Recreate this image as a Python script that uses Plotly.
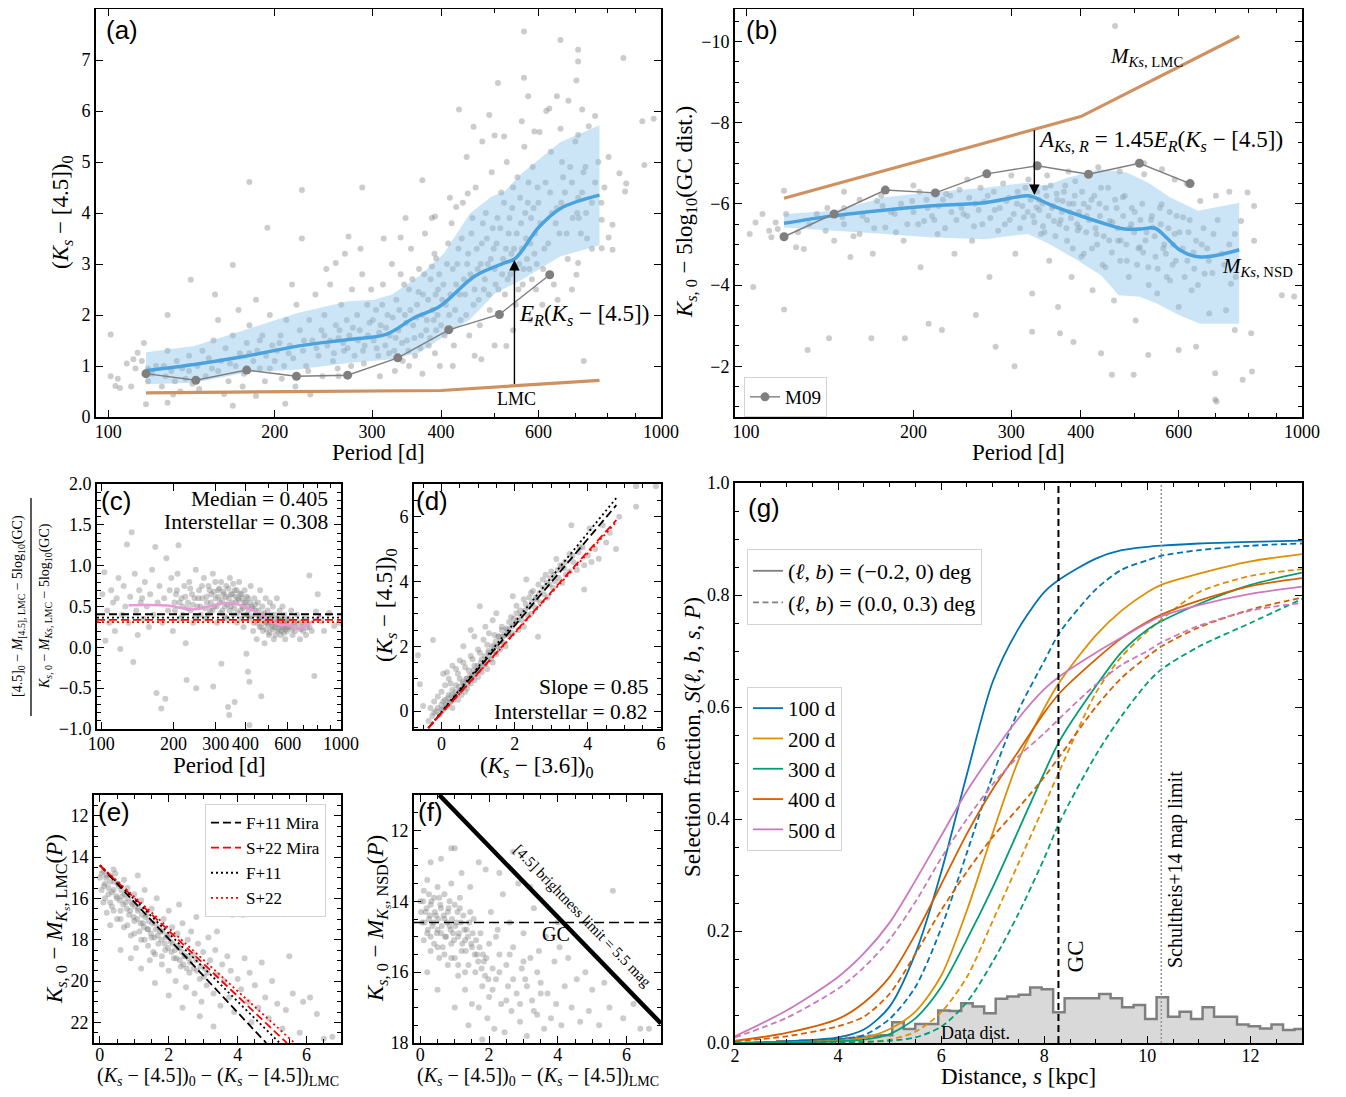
import math
import plotly.graph_objects as go

# page body keeps its default 8px margin, so the figure is 16px smaller than the window
OFF = 8
W, H = 1330, 1081
SERIF = "Liberation Serif"
SANS = "Liberation Sans"
GRAY_PT = "rgba(128,128,128,0.40)"
BLUE = "#4aa3de"
BAND = "rgba(130,192,236,0.42)"
LMC_C = "#cf9160"
M09_C = "#7f7f7f"

# ---------------- DATA ----------------
# Panel (a): period [d] vs (Ks-[4.5])0
a_points = [
    (565,7.56),(658,7.39),(708,7.2),(855,7.04),(565,6.65),(507,6.55),(708,6.97),(703,6.6),(575,6.29),(648,6.29),
    (628,6.05),(720,6.03),(431,6.03),(925,5.8),(970,5.85),(458,5.69),(489,5.92),(500,5.52),(603,5.59),(658,5.65),
    (708,5.53),(804,5.1),(841,4.78),(865,4.58),(861,4.42),(933,4.94),(781,3.87),(817,3.77),(781,3.31),(817,3.28),
    (804,3.52),(703,2.79),(708,3.02),(101,1.62),(101,0.8),(103,0.61),(105,0.57),(111,1.13),(113,1.26),(116,1.45),
    (128,2.0),(141,2.69),(156,2.4),(168,2.98),(180,4.61),(194,3.71),(224,4.45),(224,3.5),(288,4.5),(272,3.54),
    (258,3.02),(338,3.52),(370,4.64),(390,3.93),(426,4.12),(447,4.38),(392,3.11),(117,0.25),(128,0.28),(131,0.44),
    (168,0.22),(185,0.41),(209,0.26),(232,0.44),(261,0.8),(473,1.13),(725,1.1),(525,1.39),
    (112,0.95),(115,1.1),(118,0.7),(120,0.85),(122,1.0),(125,0.6),(127,0.8),(130,0.9),(133,1.1),(135,0.5),
    (138,0.75),(140,1.2),(104,0.75),(108,1.05),(110,0.6),(128,1.3),(136,0.95),(142,0.65),
    (145,1.0),(148,1.3),(150,0.8),(152,1.15),(155,1.5),(158,0.9),(160,1.1),(163,1.35),(165,0.7),(168,1.6),
    (170,1.0),(173,1.25),(176,0.85),(178,1.45),(180,1.8),(183,1.1),(186,1.3),(188,0.95),(190,1.6),(193,1.2),
    (196,2.0),(198,1.4),(146,0.55),(158,1.9),(172,2.1),(185,2.3),(162,0.45),(175,0.6),(192,0.7),
    (202,1.3),(205,1.6),(208,1.0),(210,1.9),(213,1.4),(216,1.15),(219,2.2),(222,1.7),(225,1.3),(228,1.0),
    (231,1.9),(234,1.5),(237,2.4),(240,1.2),(243,1.7),(246,2.0),(249,1.4),(252,2.6),(255,1.1),(258,1.8),
    (261,1.55),(264,2.2),(267,1.3),(270,1.9),(273,1.6),(276,2.5),(279,1.2),(282,2.0),(285,1.7),(288,2.8),
    (291,1.4),(294,2.2),(297,1.85),(206,0.75),(218,0.6),(230,0.9),(244,0.8),(260,0.95),(275,1.0),(290,1.05),
    (215,2.6),(248,2.9),(268,3.2),(286,3.3),(299,2.5),
    (302,1.5),(305,2.1),(308,1.2),(311,1.8),(314,2.6),(317,1.4),(320,2.0),(323,1.6),(326,3.0),(329,1.3),
    (332,2.3),(335,1.7),(338,2.8),(341,1.1),(344,2.0),(347,1.5),(350,2.5),(353,3.3),(356,1.8),(359,1.2),
    (362,2.2),(365,2.9),(368,1.6),(371,2.4),(374,3.6),(377,1.9),(380,1.4),(383,2.7),(386,2.1),(389,3.2),
    (392,1.7),(395,2.5),(398,1.0),(310,0.8),(330,0.9),(350,1.0),(370,0.85),(390,1.25),(345,3.9),(385,3.9),(315,3.5),
    (402,2.3),(406,1.6),(410,3.0),(414,2.0),(418,3.8),(422,1.4),(426,2.6),(430,3.3),(434,1.9),(438,4.2),
    (442,2.4),(446,3.0),(450,1.6),(454,3.6),(458,2.2),(462,4.5),(466,2.9),(470,1.8),(474,3.4),(478,2.5),
    (482,4.0),(486,3.0),(490,2.1),(494,4.8),(498,3.3),(502,2.6),(506,3.9),(510,2.0),(514,4.4),(518,3.1),
    (522,2.4),(526,5.0),(530,3.6),(534,2.8),(538,4.1),(542,3.3),(546,2.2),(550,4.7),(554,3.0),(558,3.8),
    (562,2.6),(566,5.3),(570,3.5),(574,4.2),(578,2.9),(582,3.9),(586,4.9),(590,3.2),(594,2.5),(598,4.5),
    (420,1.0),(460,1.2),(500,1.4),(540,1.7),(580,1.9),(415,4.3),(445,5.1),(475,5.4),(520,5.5),(560,5.8),(590,5.6),
    (605,3.8),(612,2.9),(618,4.6),(625,3.4),(632,5.2),(640,2.6),(648,4.1),(655,3.6),(662,5.0),(670,4.4),
    (678,3.1),(685,4.9),(692,3.9),(700,5.4),(708,4.3),(716,3.6),(724,4.8),(732,4.0),(740,5.7),(750,3.3),
    (760,4.6),(770,5.0),(780,4.2),(790,4.5),(610,2.2),(650,2.3),(690,2.5),(620,6.0),(680,6.2),(730,4.9),
    (760,5.9),(635,4.0),(665,4.7),(710,3.9),
    (252,1.5),(256,1.25),(262,1.7),(266,1.45),(271,1.35),(277,1.75),(283,1.5),(289,1.3),(295,1.6),(301,1.9),
    (306,1.35),(309,1.65),(313,2.2),(318,1.75),(322,1.25),(327,1.95),(331,1.55),(336,2.1),(340,1.45),(343,2.6),
    (346,1.85),(349,1.3),(352,2.1),(355,2.7),(358,1.55),(361,1.95),(364,2.45),(367,1.35),(370,2.0),(373,2.8),
    (376,1.7),(379,2.3),(382,1.55),(385,2.95),(388,1.9),(391,2.4),(394,2.0),(397,2.8),(400,1.8),(404,2.6),
    (408,2.2),(412,3.4),(416,2.4),(420,2.9),(424,2.1),(428,3.0),(432,2.4),(436,3.5),(440,2.7),(444,2.0),
    (448,3.2),(452,2.8),(456,3.9),(460,2.5),(464,3.3),(468,2.3),(472,3.0),(476,3.8),(480,2.7),(484,3.5),
    (488,2.4),(492,3.1),(496,3.7),(500,2.9),(504,3.4),(508,2.5),(512,3.7),(516,2.8),(520,4.2),(524,3.3),
    (528,2.7),(532,3.9),(536,3.2),(540,4.5),(544,2.9),(548,3.6),(552,2.5),(556,4.3),(560,3.3),(564,2.9),
    (568,4.0),(572,3.1),(576,4.6),(580,3.4),(584,2.7),(588,4.1),(592,3.6),(596,3.0),(600,4.2),(615,3.3),
    (630,4.4),(645,3.8),(660,4.2),(675,3.6),(690,4.6),(705,4.0),(720,4.4),(735,3.5),(750,4.2),(200,1.1),
    (212,1.25),(226,1.5),(238,1.35),(246,1.6),(180,1.25),(166,1.05),(154,0.95),(140,0.9),(126,1.0),(118,0.95),
    (132,0.7),(188,1.5),(196,0.95),(204,1.45),
]
a_med_P = [117, 143, 177, 220, 272, 318, 357, 398, 460, 521, 545, 602, 658, 774]
a_med_c = [0.91, 1.03, 1.19, 1.39, 1.52, 1.62, 1.94, 2.17, 2.76, 3.02, 3.11, 3.73, 4.09, 4.35]
a_up_P = [117, 143, 177, 220, 272, 303, 326, 365, 405, 451, 493, 521, 560, 658, 774]
a_up_c = [1.27, 1.39, 1.71, 2.04, 2.27, 2.30, 2.40, 2.76, 3.21, 3.99, 4.32, 4.42, 4.78, 5.39, 5.72]
a_lo_P = [117, 143, 177, 220, 272, 326, 365, 405, 451, 502, 560, 658, 774]
a_lo_c = [0.64, 0.67, 0.87, 0.93, 1.06, 1.13, 1.26, 1.58, 1.91, 2.43, 2.69, 3.15, 3.37]
m09_P = [117, 144, 178, 219, 271, 334, 413, 510, 629]
m09_color = [0.85, 0.72, 0.92, 0.80, 0.82, 1.16, 1.71, 2.01, 2.79]
m09_mag = [-5.19, -5.75, -6.34, -6.27, -6.74, -6.94, -6.73, -7.00, -6.50]
lmc_P = [117, 400, 774]
lmc_color = [0.475, 0.52, 0.72]
lmc_mag_P = [117, 400, 771]
lmc_mag = [-6.14, -8.15, -10.13]
a_arrow_P, a_arrow_y0, a_arrow_y1 = 543, 0.62, 3.08

# Panel (b): period vs Ks,0 - 5log10(GC dist)
b_points = [
    (461,-10.38),(117,-3.40),(103,-3.95),(141,-2.69),(129,-2.4),(168,-2.69),(193,-2.69),(213,-3.05),(225,-2.89),
    (259,-3.26),(281,-2.48),(304,-2.0),(327,-2.85),(367,-2.81),(388,-2.6),(435,-2.32),(455,-1.79),(498,-1.79),
    (529,-2.28),(600,-2.4),(645,-2.48),(698,-1.83),(702,-1.13),(730,-3.38),(757,-2.89),(782,-1.67),(813,-1.87),
    (810,-2.81),(920,-3.75),(968,-3.72),(777,-5.58),(798,-6.28),(820,-5.95),(820,-5.09),(698,-1.18),
    (101.5,-5.26),(104,-5.54),(107,-5.75),(110,-5.34),(111,-5.18),(113,-5.54),(114,-5.38),(117,-6.32),(118,-5.75),
    (123,-4.93),(127,-4.89),(134,-5.75),(139,-5.34),(144,-5.09),(149,-5.67),(154,-4.69),(160,-5.26),(169,-4.77),
    (172,-6.07),(178,-5.42),(185,-5.75),(192,-5.09),(199,-6.07),(206,-4.44),(209,-5.58),(221,-5.26),(229,-6.24),
    (237,-4.77),(246,-5.75),(255,-5.09),(264,-6.4),(274,-4.2),(284,-5.34),(294,-6.07),(305,-4.77),(316,-5.67),
    (327,-3.79),(333,-5.91),(339,-5.26),(345,-6.4),(351,-4.6),(358,-5.58),(364,-3.46),(371,-6.07),(378,-5.09),
    (385,-4.2),(391,-6.56),(398,-5.42),(405,-4.77),(413,-5.91),(420,-3.87),(427,-5.26),(435,-6.4),(443,-4.44),
    (451,-5.58),(459,-3.62),(467,-5.09),(476,-6.16),(484,-4.6),(493,-5.5),(502,-3.13),(511,-4.93),(520,-6.73),
    (529,-4.44),(539,-5.42),(549,-3.79),(559,-5.99),(569,-4.77),(579,-4.11),(590,-5.26),(600,-3.46),(611,-5.67),
    (622,-4.6),(633,-3.87),(645,-5.09),(656,-6.07),(668,-4.28),(681,-3.3),(693,-5.26),(718,-4.77),(745,-4.03),(757,-5.26),
    (150,-5.9),(160,-6.1),(165,-5.6),(175,-6.2),(182,-5.8),(190,-6.0),(195,-5.5),(205,-6.3),(212,-5.9),(218,-5.6),
    (226,-6.1),(234,-5.8),(242,-6.35),(250,-5.7),(258,-6.0),(266,-5.5),(272,-6.2),(280,-5.85),(290,-6.5),(298,-5.6),
    (308,-6.3),(314,-5.95),(322,-6.6),(328,-5.7),(336,-6.1),(342,-5.45),(348,-6.7),(355,-5.9),(362,-6.25),(368,-5.6),
    (375,-6.45),(382,-5.8),(388,-6.0),(395,-5.35),(402,-6.3),(410,-5.7),(418,-6.1),(425,-5.4),(432,-6.0),(440,-5.2),
    (448,-6.4),(456,-5.55),(464,-5.9),(472,-5.1),(480,-6.2),(490,-5.4),(500,-5.8),(508,-4.9),(516,-6.0),(525,-5.3),
    (535,-5.6),(545,-4.7),(555,-5.9),(565,-5.0),(575,-5.4),(585,-4.5),(595,-5.7),(610,-4.9),(625,-5.3),(640,-4.4),
    (660,-5.0),(680,-4.6),(430,-6.9),(470,-6.8),(520,-7.0),(560,-6.85),(590,-6.6),(380,-6.8),(300,-6.7),(250,-6.6),
    (200,-6.45),(150,-6.3),(620,-6.5),(700,-6.2),(740,-6.3),
    (200,-5.8),(204,-5.5),(211,-6.1),(216,-5.7),(222,-5.95),(228,-5.4),(233,-6.2),(239,-5.6),(244,-5.9),(252,-6.15),
    (257,-5.45),(262,-5.85),(268,-6.05),(275,-5.65),(279,-6.3),(286,-5.9),(292,-5.5),(297,-6.15),(303,-5.75),(307,-6.0),
    (311,-5.4),(318,-6.4),(321,-5.8),(325,-6.1),(330,-5.55),(334,-6.3),(337,-5.85),(341,-6.0),(344,-5.3),(347,-6.2),
    (350,-5.7),(353,-6.45),(357,-5.95),(360,-5.2),(363,-6.1),(366,-5.5),(370,-5.8),(373,-6.3),(377,-5.4),(381,-6.0),
    (384,-5.65),(387,-4.9),(390,-6.2),(394,-5.5),(397,-5.8),(401,-4.7),(405,-6.0),(409,-5.3),(414,-5.6),(419,-4.9),
    (423,-6.2),(428,-5.0),(433,-5.7),(438,-4.5),(444,-5.9),(450,-5.1),(455,-4.8),(461,-6.1),(466,-5.4),(471,-4.6),
    (477,-5.7),(483,-5.0),(488,-4.2),(494,-5.9),(499,-5.3),(505,-4.5),(512,-5.6),(518,-4.8),(523,-5.1),(530,-4.0),
    (537,-5.7),(543,-5.2),(550,-4.4),(557,-5.5),(563,-4.9),(571,-4.2),(578,-5.8),(586,-5.0),(593,-4.6),(602,-5.3),
    (615,-4.2),(628,-5.6),(638,-4.8),(650,-4.0),(665,-5.4),(675,-4.9),(690,-4.3),(705,-5.6),(725,-4.5),(740,-5.0),
    (760,-4.2),(150,-5.5),(156,-5.2),(162,-5.7),(170,-5.4),(176,-5.95),(186,-5.3),(130,-5.5),(124,-5.3),(140,-5.9),
]
b_med_P = [117, 144, 178, 213, 269, 321, 330, 351, 391, 435, 480, 511, 544, 569, 605, 656, 771]
b_med_m = [-5.52, -5.71, -5.85, -5.95, -6.03, -6.20, -6.16, -5.99, -5.75, -5.54, -5.38, -5.38, -5.40, -5.18, -4.85, -4.69, -4.87]
b_up_P = [117, 144, 178, 213, 269, 321, 345, 377, 435, 484, 529, 579, 650, 771]
b_up_m = [-5.75, -5.83, -6.16, -6.28, -6.40, -6.52, -6.44, -6.64, -6.85, -6.77, -6.52, -6.16, -5.83, -6.03]
b_lo_P = [117, 144, 178, 213, 269, 321, 351, 391, 435, 468, 511, 549, 600, 656, 771]
b_lo_m = [-5.42, -5.34, -5.26, -5.18, -5.13, -5.26, -5.01, -4.64, -4.24, -3.75, -3.71, -3.54, -3.26, -3.05, -3.05]
b_arrow_P, b_arrow_y0, b_arrow_y1 = 330, -7.85, -6.22

# Panel (c): ratio vs period
c_points = [
    (101,0.65),(103,0.92),(104,0.08),(106,0.45),(108,0.3),(110,0.7),(112,0.55),(114,0.2),(116,0.6),(118,0.85),
    (120,-0.02),(122,0.4),(124,0.75),(126,0.5),(128,1.26),(130,0.3),(132,0.62),(134,1.41),(136,-0.18),(138,0.9),
    (140,0.45),(142,0.15),(144,0.7),(146,0.55),(148,0.6),(150,0.35),(152,0.8),(155,0.5),(158,0.25),(160,0.65),
    (163,0.95),(165,0.4),(168,1.23),(170,-0.56),(172,0.55),(175,0.75),(178,-0.75),(180,0.3),(183,0.6),(185,-0.63),
    (187,1.09),(190,0.45),(193,0.7),(196,0.85),(199,0.2),(202,0.55),(205,0.65),(208,0.9),(210,1.25),(213,0.35),
    (216,0.6),(219,0.5),(222,0.75),(225,0.05),(227,-0.4),(230,0.55),(233,0.8),(236,0.45),(239,0.65),(242,0.3),
    (245,0.6),(249,-0.5),(248,0.95),(252,0.5),(256,0.7),(260,0.4),(264,0.6),(268,0.85),(272,0.35),(276,0.55),
    (280,0.75),(284,0.45),(288,0.65),(293,-0.48),(292,0.9),(296,0.5),(300,0.6),(304,0.3),(308,0.7),(312,0.55),
    (317,-0.2),(316,0.8),(320,0.45),(324,0.65),(328,0.5),(332,0.75),(336,0.35),(338,-0.73),(340,0.6),(342,-0.83),
    (344,0.85),(348,0.5),(352,0.65),(356,0.4),(360,-0.67),(360,0.7),(364,0.55),(368,0.3),(372,0.6),(376,0.8),
    (380,0.45),(384,0.65),(388,0.5),(392,0.25),(396,0.7),(400,0.55),(403,-0.08),(405,0.4),(409,-0.3),(410,0.6),
    (415,-0.42),(415,0.35),(420,0.75),(425,0.5),(430,0.2),(435,0.6),(440,0.45),(445,0.1),(450,0.55),(455,0.35),
    (460,0.7),(465,-0.6),(465,0.25),(470,0.5),(475,0.4),(480,0.05),(485,0.6),(490,0.3),(495,0.45),(500,0.15),
    (505,0.55),(510,0.35),(515,0.25),(520,0.5),(525,0.1),(530,0.4),(535,0.3),(540,0.6),(545,0.2),(550,0.35),
    (555,0.45),(560,0.15),(565,0.3),(570,0.5),(575,0.25),(580,0.4),(585,0.1),(590,0.3),(595,0.2),(605,0.35),
    (612,0.25),(620,0.45),(628,0.15),(636,0.3),(645,0.2),(655,0.4),(665,0.25),(675,0.1),(685,0.3),(695,0.2),
    (705,0.35),(715,0.15),(725,0.3),(740,0.25),(755,0.2),(774,-0.35),(787,0.44),(800,0.65),(826,0.32),(850,0.2),
    (892,0.42),(937,0.26),(980,0.3),(738,0.88),(415,-0.95),
    (203,0.45),(207,0.7),(212,0.55),(218,0.4),(224,0.62),(229,0.48),(235,0.72),(241,0.52),(247,0.38),(254,0.6),
    (259,0.5),(263,0.75),(270,0.48),(275,0.62),(279,0.4),(283,0.7),(287,0.55),(291,0.45),(295,0.68),(299,0.8),
    (303,0.5),(307,0.62),(311,0.72),(315,0.42),(319,0.58),(323,0.68),(327,0.38),(331,0.62),(335,0.52),(339,0.72),
    (343,0.45),(347,0.65),(351,0.55),(355,0.78),(359,0.48),(363,0.62),(367,0.7),(371,0.42),(375,0.58),(379,0.66),
    (383,0.35),(387,0.6),(391,0.48),(395,0.55),(399,0.4),(404,0.62),(408,0.5),(413,0.45),(418,0.55),(423,0.38),
    (428,0.48),(433,0.3),(438,0.52),(443,0.4),(448,0.3),(453,0.45),(458,0.25),(463,0.38),(468,0.32),(473,0.2),
    (478,0.42),(483,0.3),(488,0.22),(493,0.35),(498,0.28),(503,0.18),(508,0.3),(513,0.4),(518,0.22),(523,0.32),
    (528,0.25),(533,0.15),(538,0.28),(543,0.35),(548,0.22),(553,0.28),(558,0.32),(563,0.2),(568,0.25),(573,0.35),
    (578,0.18),(583,0.28),(588,0.22),(593,0.32),(598,0.25),(610,0.3),(625,0.22),(640,0.28),(660,0.32),(680,0.22),
    (700,0.28),(720,0.24),
]
c_med_P = [130, 190, 238, 349, 436, 496, 563, 610, 661, 826]
c_med_r = [0.516, 0.512, 0.464, 0.544, 0.444, 0.343, 0.270, 0.278, 0.230, 0.395]
c_levels = [0.405, 0.363, 0.335, 0.308]   # F+11 Mira, F+11, S+22 Mira, S+22

# Panel (d): colour-colour
d_points = [
    (-0.35,-0.3),(-0.3,0.1),(-0.25,-0.15),(-0.2,0.3),(-0.15,0.0),(-0.1,0.45),(-0.05,-0.1),(0.0,0.2),(0.0,0.6),(0.05,0.05),
    (0.1,0.35),(0.1,0.8),(0.15,0.15),(0.2,0.5),(0.2,1.0),(0.25,0.3),(0.3,0.65),(0.3,0.1),(0.35,0.45),(0.4,0.8),
    (0.4,1.3),(0.45,0.35),(0.5,0.6),(0.5,1.0),(0.55,0.5),(0.6,0.85),(0.6,1.5),(0.65,0.6),(0.7,1.0),(0.7,0.7),
    (0.75,1.25),(0.8,0.85),(0.8,1.7),(0.85,1.1),(0.9,0.95),(0.9,1.4),(0.95,1.2),(1.0,1.05),(1.0,1.9),(1.05,1.35),
    (1.1,1.2),(1.1,1.6),(1.15,2.2),(1.2,1.45),(1.25,1.3),(1.3,1.8),(1.3,2.4),(1.35,1.6),(1.4,1.5),(1.45,2.0),
    (1.5,1.75),(1.5,3.02),(1.55,2.3),(1.6,1.9),(1.65,2.6),(1.68,2.29),(1.7,2.1),(1.75,2.0),(1.8,2.5),(1.85,2.3),
    (1.9,2.9),(1.95,3.54),(1.95,2.4),(2.0,2.7),(2.05,3.02),(2.1,2.5),(2.15,3.1),(2.2,2.8),(2.25,2.6),(2.3,3.3),
    (2.32,4.06),(2.35,2.95),(2.4,3.5),(2.45,3.0),(2.5,3.7),(2.55,3.2),(2.6,3.45),(2.64,2.29),(2.65,3.9),(2.7,3.35),
    (2.77,4.06),(2.8,3.6),(2.85,4.2),(2.9,3.5),(2.95,3.9),(3.0,4.3),(3.05,3.8),(3.1,4.0),(3.14,4.69),(3.2,4.1),
    (3.25,4.5),(3.3,3.95),(3.35,4.4),(3.4,4.2),(3.5,4.84),(3.5,4.3),(3.55,5.73),(3.6,4.6),(3.7,4.35),(3.75,4.9),
    (3.86,5.05),(3.9,3.75),(3.9,4.5),(4.0,4.8),(4.05,5.63),(4.1,4.6),(4.2,5.0),(4.3,4.7),(4.41,5.73),(4.5,5.2),
    (4.6,5.5),(4.77,5.0),(4.86,5.99),(5.32,6.3),(5.32,6.93),(5.86,6.93),(-0.59,0.83),(-0.64,1.72),(-0.5,0.16),(-0.23,2.19),
    (0.5,1.56),(0.05,1.15),(1.05,3.23),(0.3,1.4),(0.6,2.0),(0.9,2.3),(1.2,2.6),(0.15,1.2),(0.8,2.5),(1.4,2.8),
    (-0.2,-0.05),(-0.1,0.1),(0.0,0.05),(0.05,0.3),(0.12,0.2),(0.18,0.4),(0.22,0.25),(0.28,0.5),(0.33,0.35),(0.38,0.6),
    (0.42,0.5),(0.48,0.75),(0.52,0.65),(0.58,0.9),(0.62,0.75),(0.68,1.0),(0.72,0.85),(0.78,1.1),(0.82,1.0),(0.88,1.25),
    (0.92,1.15),(0.98,1.4),(1.02,1.25),(1.08,1.5),(1.12,1.4),(1.18,1.7),(1.22,1.55),(1.28,1.85),(1.32,1.7),(1.38,2.0),
    (1.42,1.85),(1.48,2.15),(1.52,2.0),(1.58,2.3),(1.62,2.15),(1.72,2.35),(1.78,2.55),(1.82,2.4),(1.92,2.6),(1.98,2.85),
    (2.08,2.8),(2.18,2.95),(2.28,3.1),(2.38,3.2),(2.48,3.35),(2.58,3.5),(2.68,3.65),(2.78,3.8),(2.88,3.95),(2.98,4.1),
    (3.08,4.2),(3.18,4.35),(3.28,4.45),(3.38,4.6),(3.58,4.8),(3.78,5.05),(0.25,0.85),(0.45,1.15),(0.65,1.35),(0.85,1.6),
    (1.05,1.8),(1.25,2.05),(1.45,2.35),(1.65,2.5),(1.85,2.75),(2.05,3.25),(2.25,3.45),(2.45,3.65),
]
d_x0, d_y0, d_x1 = -0.36, -0.52, 4.78
d_y1 = [6.35, 6.57, 5.89, 5.83]        # F+11 Mira, F+11, S+22 Mira, S+22

# Panel (e)
e_points = [
    (0.0,15.0),(0.05,15.6),(0.1,14.7),(0.1,16.2),(0.15,15.3),(0.2,14.9),(0.2,16.7),(0.25,15.8),(0.3,15.2),(0.35,16.4),
    (0.4,15.6),(0.45,14.8),(0.5,16.0),(0.5,17.0),(0.55,15.4),(0.6,16.6),(0.65,15.9),(0.7,17.4),(0.75,16.2),(0.8,15.5),
    (0.85,16.8),(0.9,17.8),(0.95,16.3),(1.0,15.8),(1.0,17.1),(1.05,18.4),(1.1,16.6),(1.15,17.6),(1.2,16.1),(1.25,17.2),
    (1.3,18.0),(1.35,16.8),(1.4,17.5),(1.45,19.0),(1.5,16.5),(1.5,17.9),(1.55,18.6),(1.6,17.2),(1.65,16.0),(1.7,18.2),
    (1.75,17.6),(1.8,19.2),(1.85,17.0),(1.9,18.5),(1.95,17.8),(2.0,16.6),(2.0,19.5),(2.05,18.1),(2.1,17.4),(2.15,18.9),
    (2.2,20.0),(2.25,17.7),(2.3,18.4),(2.35,19.3),(2.4,17.2),(2.45,18.8),(2.5,20.3),(2.55,18.0),(2.6,19.6),(2.65,17.6),
    (2.7,18.7),(2.75,20.6),(2.8,19.0),(2.85,18.2),(2.9,19.9),(2.95,21.0),(3.0,18.6),(3.05,19.4),(3.1,20.2),(3.15,17.9),
    (3.2,19.0),(3.3,20.6),(3.35,18.5),(3.4,19.7),(3.5,21.2),(3.55,19.2),(3.6,20.0),(3.7,18.8),(3.75,20.8),(3.8,19.5),
    (3.9,21.5),(3.85,16.8),(4.15,16.8),(4.0,19.9),(4.1,20.4),(4.2,18.9),(4.3,21.0),(4.35,19.6),(4.4,22.0),(4.5,20.2),
    (4.6,21.3),(4.7,19.1),(4.8,20.8),(4.9,21.8),(5.0,20.0),(5.15,21.1),(5.3,22.3),(5.4,21.4),(5.5,18.8),(5.6,20.6),
    (5.8,22.5),(5.9,21.0),(6.1,20.8),(6.3,21.6),(6.5,22.8),(6.75,22.7),(0.3,17.3),(0.6,18.5),(0.9,18.9),(1.2,19.4),
    (1.6,20.1),(2.0,20.7),(2.4,21.3),(2.9,21.7),(3.3,22.2),(0.7,15.1),(1.3,15.6),(1.1,14.9),(0.4,14.6),(2.3,16.3),
    (2.8,16.9),(3.4,17.6),
    (0.05,14.8),(0.12,15.4),(0.18,15.0),(0.25,15.5),(0.3,14.9),(0.35,15.7),(0.42,15.2),(0.48,15.9),(0.52,15.3),(0.58,16.1),
    (0.62,15.6),(0.68,16.3),(0.72,15.8),(0.78,16.5),(0.82,16.0),(0.88,16.6),(0.92,16.2),(0.98,16.9),(1.02,16.4),(1.08,17.0),
    (1.12,16.5),(1.18,17.2),(1.22,16.8),(1.28,17.4),(1.32,16.9),(1.38,17.5),(1.42,17.1),(1.48,17.7),(1.52,17.2),(1.58,17.9),
    (1.62,17.5),(1.68,17.8),(1.72,17.4),(1.78,18.0),(1.82,17.6),(1.88,18.2),(1.92,17.9),(1.98,18.4),(2.02,17.8),(2.08,18.6),
    (2.12,18.2),(2.18,18.5),(2.22,18.9),(2.28,18.3),(2.32,19.0),(2.38,18.6),(2.42,19.2),(2.48,18.8),(2.52,19.4),(2.58,18.9),
    (2.62,19.1),(2.72,19.4),(2.82,19.5),(2.92,19.3),(3.02,19.8),(3.12,19.6),(0.4,16.6),(0.6,17.0),(0.8,17.3),(1.0,17.7),
    (1.2,18.0),(1.4,18.3),(1.6,18.7),(1.8,18.8),(0.15,16.0),(0.3,16.2),
]
e_x0, e_y0, e_y1 = 0.0, 14.4, 23.0
e_x1 = [4.83, 5.22, 5.43, 5.65]        # F+11 Mira, F+11, S+22 Mira, S+22

# Panel (f)
f_points = [
    (0.0,14.0),(0.05,14.6),(0.1,13.7),(0.1,15.1),(0.15,14.3),(0.2,14.9),(0.2,13.4),(0.25,14.5),(0.3,15.4),(0.3,14.1),
    (0.35,14.7),(0.4,13.9),(0.4,15.2),(0.45,14.4),(0.5,14.8),(0.5,13.6),(0.55,15.6),(0.6,14.2),(0.6,14.9),(0.65,15.3),
    (0.7,14.5),(0.7,13.8),(0.75,15.0),(0.8,14.3),(0.8,15.8),(0.85,14.7),(0.9,15.2),(0.9,13.5),(0.95,14.9),(1.0,14.1),
    (1.0,15.6),(1.05,14.6),(1.1,16.1),(1.1,15.0),(1.15,13.9),(1.2,15.4),(1.25,14.4),(1.3,16.5),(1.3,15.1),(1.35,14.8),
    (1.4,15.8),(1.45,13.6),(1.5,15.3),(1.5,16.9),(1.55,14.5),(1.6,16.0),(1.65,15.5),(1.7,17.0),(1.75,14.9),(1.8,16.4),
    (1.85,15.7),(1.9,13.1),(1.95,17.3),(2.0,15.2),(2.0,16.7),(2.05,14.3),(2.1,15.9),(2.15,17.6),(2.2,16.2),(2.25,14.8),
    (2.3,15.5),(2.35,16.9),(2.4,13.8),(2.45,17.7),(2.5,15.8),(2.55,16.4),(2.6,14.6),(2.65,17.1),(2.7,15.3),(2.8,16.6),
    (2.85,13.5),(2.9,17.4),(2.95,15.9),(3.0,14.9),(3.05,16.2),(3.1,17.8),(3.2,15.6),(3.25,16.8),(3.3,14.2),(3.4,17.2),
    (3.45,15.4),(3.5,16.3),(3.6,17.6),(3.65,15.0),(3.7,16.6),(3.8,17.3),(3.9,15.7),(3.95,16.9),(4.05,15.3),(4.1,17.5),
    (4.2,16.4),(4.3,15.6),(4.4,17.0),(4.55,16.2),(4.65,17.4),(4.8,16.0),(4.9,17.1),(5.0,16.5),(5.2,17.5),(5.35,16.3),
    (5.5,17.0),(5.6,13.7),(5.9,17.3),(6.2,16.9),(6.4,17.6),(6.65,17.6),(0.9,12.5),(1.0,12.5),(2.7,12.6),(1.7,12.9),
    (2.3,13.2),(3.2,13.6),(0.3,12.9),(1.2,13.2),(4.0,14.6),(0.2,16.0),(0.5,16.5),(1.0,17.0),(1.4,17.5),(1.8,17.9),(0.6,12.8),
    (0.02,14.3),(0.08,14.0),(0.12,14.6),(0.18,14.2),(0.22,14.8),(0.28,14.4),(0.32,14.0),(0.38,14.6),(0.42,14.3),(0.48,14.9),
    (0.52,14.5),(0.58,14.1),(0.62,14.7),(0.68,14.4),(0.72,15.0),(0.78,14.6),(0.82,14.2),(0.88,14.8),(0.92,14.5),(0.98,15.1),
    (1.02,14.7),(1.08,14.3),(1.12,14.9),(1.18,14.6),(1.22,15.2),(1.28,14.8),(1.32,15.4),(1.38,15.0),(1.42,14.6),(1.48,15.2),
    (1.52,14.9),(1.58,15.5),(1.62,15.1),(1.68,15.7),(1.72,15.3),(1.78,15.9),(1.82,15.5),(1.88,16.1),(1.92,15.6),(1.98,16.2),
    (0.3,15.0),(0.5,15.3),(0.7,15.5),(0.9,15.6),(1.1,15.8),(1.3,16.0),(0.25,13.8),(0.55,13.9),(0.85,14.0),(1.15,14.2),
    (1.45,14.3),(2.1,16.5),(2.3,16.0),(2.5,16.8),(2.7,16.2),(2.9,16.9),(3.1,16.4),(3.3,17.1),(3.5,16.6),(2.2,15.0),
    (2.6,15.5),(3.0,15.7),(3.4,16.0),
]
f_limit_x = [0.55, 7.0]
f_limit_y = [11.0, 17.45]
f_gc_level = 14.6

# Panel (g): selection fraction
g_s = [2, 3, 4, 4.5, 5, 5.5, 6, 6.5, 7, 7.5, 8, 8.3, 9, 9.5, 10, 10.27, 11, 12, 13]
g_periods = ["100 d", "200 d", "300 d", "400 d", "500 d"]
g_solid = [
    [0.000, 0.003, 0.010, 0.024, 0.065, 0.160, 0.305, 0.480, 0.645, 0.740, 0.805, 0.828, 0.865, 0.880, 0.886, 0.888, 0.892, 0.895, 0.897],
    [0.000, 0.001, 0.004, 0.009, 0.025, 0.056, 0.120, 0.237, 0.375, 0.505, 0.598, 0.645, 0.728, 0.772, 0.805, 0.818, 0.838, 0.860, 0.873],
    [0.000, 0.001, 0.003, 0.006, 0.016, 0.044, 0.100, 0.185, 0.278, 0.380, 0.483, 0.540, 0.637, 0.698, 0.738, 0.753, 0.784, 0.818, 0.840],
    [0.004, 0.018, 0.043, 0.072, 0.118, 0.194, 0.283, 0.374, 0.453, 0.521, 0.590, 0.625, 0.685, 0.723, 0.752, 0.765, 0.790, 0.816, 0.830],
    [0.012, 0.058, 0.118, 0.160, 0.215, 0.290, 0.370, 0.450, 0.518, 0.580, 0.632, 0.655, 0.697, 0.724, 0.750, 0.762, 0.782, 0.802, 0.815],
]
g_dashed = [
    [0.000, 0.002, 0.006, 0.014, 0.043, 0.100, 0.205, 0.340, 0.478, 0.594, 0.682, 0.733, 0.810, 0.845, 0.862, 0.870, 0.880, 0.888, 0.892],
    [0.000, 0.000, 0.001, 0.002, 0.006, 0.020, 0.055, 0.118, 0.218, 0.321, 0.424, 0.487, 0.625, 0.690, 0.735, 0.756, 0.805, 0.834, 0.846],
    [0.000, 0.000, 0.001, 0.002, 0.004, 0.010, 0.029, 0.073, 0.145, 0.231, 0.330, 0.395, 0.514, 0.584, 0.643, 0.667, 0.708, 0.750, 0.793],
    [0.003, 0.012, 0.030, 0.047, 0.088, 0.159, 0.237, 0.306, 0.368, 0.420, 0.475, 0.512, 0.600, 0.652, 0.690, 0.708, 0.742, 0.774, 0.795],
    [0.010, 0.045, 0.097, 0.135, 0.185, 0.252, 0.330, 0.400, 0.462, 0.512, 0.553, 0.580, 0.640, 0.675, 0.700, 0.715, 0.745, 0.772, 0.786],
]
g_colors = ["#0173B2", "#DE8F05", "#029E73", "#D55E00", "#CC78BC"]
hist_start, hist_width = 2.82, 0.223
hist_heights = [0.003, 0.003, 0.004, 0.004, 0.006, 0.007, 0.009, 0.011, 0.013, 0.014,
                0.037, 0.025, 0.034, 0.034, 0.058, 0.057, 0.071, 0.065, 0.053, 0.079,
                0.083, 0.086, 0.099, 0.096, 0.055, 0.080, 0.080, 0.080, 0.0875, 0.080,
                0.064, 0.068, 0.043, 0.0815, 0.047, 0.056, 0.043, 0.064, 0.047, 0.047,
                0.033, 0.030, 0.026, 0.033, 0.023, 0.025]
gc_dist = 8.275
map_limit = 10.27

# ---------------- FIGURE ----------------
fig = go.Figure()

def PX(x):
    return (x - OFF) / W

def PY(y):
    return 1 - (y - OFF) / H

def clamp(v):
    return min(1.0, max(0.0, v))

def dom_x(l, r):
    return [clamp(PX(l)), clamp(PX(r))]

def dom_y(t, b):
    return [clamp(PY(b)), clamp(PY(t))]

def base_axis(domain, anchor, rng, is_x=False, **kw):
    d = dict(domain=domain, anchor=anchor, range=rng, showline=True, linecolor="black", linewidth=2,
             mirror="allticks", ticks="inside", ticklen=7, tickwidth=1.3, tickcolor="black", automargin=False,
             showgrid=False, zeroline=False, tickfont=dict(family=SERIF, size=18, color="black"))
    if is_x:
        d["ticklabelstandoff"] = -3
    d.update(kw)
    return d

def minor(dtick=None, vals=None):
    m = dict(ticks="inside", ticklen=4, tickwidth=1, tickcolor="black", showgrid=False)
    if dtick is not None:
        m["dtick"] = dtick
    if vals is not None:
        m["tickvals"] = vals
    return m

KS45 = "(<i>K</i><sub><i>s</i></sub> − [4.5])<sub>0</sub>"
PER_T = "Period [d]"
LOG_TV = [100, 200, 300, 400, 600, 1000]
LOG_MINOR = [500, 700, 800, 900]

def scatter(points, xa, ya):
    return go.Scatter(x=[p[0] for p in points], y=[p[1] for p in points], mode="markers",
                      marker=dict(size=6, color=GRAY_PT, line=dict(width=0)),
                      xaxis=xa, yaxis=ya, showlegend=False, hoverinfo="skip")

def band(xu, yu, xl, yl, xa, ya):
    return go.Scatter(x=list(xu) + list(xl)[::-1], y=list(yu) + list(yl)[::-1], fill="toself",
                      fillcolor=BAND, line=dict(width=0), mode="lines", xaxis=xa, yaxis=ya,
                      showlegend=False, hoverinfo="skip")

# ---- (a)
fig.add_trace(scatter(a_points, "x", "y"))
fig.add_trace(band(a_up_P, a_up_c, a_lo_P, a_lo_c, "x", "y"))
fig.add_trace(go.Scatter(x=lmc_P, y=lmc_color, mode="lines", line=dict(color=LMC_C, width=3.2),
                         xaxis="x", yaxis="y", showlegend=False))
fig.add_trace(go.Scatter(x=a_med_P, y=a_med_c, mode="lines", line=dict(color=BLUE, width=3.5, shape="spline"),
                         xaxis="x", yaxis="y", showlegend=False))
fig.add_trace(go.Scatter(x=m09_P, y=m09_color, mode="lines+markers", line=dict(color=M09_C, width=1.4),
                         marker=dict(size=9, color=M09_C), xaxis="x", yaxis="y", showlegend=False))

# ---- (b)
fig.add_trace(scatter(b_points, "x2", "y2"))
fig.add_trace(band(b_up_P, b_up_m, b_lo_P, b_lo_m, "x2", "y2"))
fig.add_trace(go.Scatter(x=lmc_mag_P, y=lmc_mag, mode="lines", line=dict(color=LMC_C, width=3.2),
                         xaxis="x2", yaxis="y2", showlegend=False))
fig.add_trace(go.Scatter(x=b_med_P, y=b_med_m, mode="lines", line=dict(color=BLUE, width=3.5, shape="spline"),
                         xaxis="x2", yaxis="y2", showlegend=False))
fig.add_trace(go.Scatter(x=m09_P, y=m09_mag, mode="lines+markers", line=dict(color=M09_C, width=1.4),
                         marker=dict(size=9, color=M09_C), xaxis="x2", yaxis="y2", name="M09",
                         legend="legend4", showlegend=True))

# ---- (c)
fig.add_trace(scatter(c_points, "x3", "y3"))
fig.add_trace(go.Scatter(x=c_med_P, y=c_med_r, mode="lines", line=dict(color="#e89ad6", width=2.5, shape="spline"),
                         xaxis="x3", yaxis="y3", showlegend=False))

line_styles = [("black", "8px,4px"), ("black", "2px,3px"), ("red", "8px,4px"), ("red", "2px,3px")]
line_names = ["F+11 Mira", "F+11", "S+22 Mira", "S+22"]
shapes = []
for lev, (col, dash) in zip(c_levels, line_styles):
    shapes.append(dict(type="line", xref="x3 domain", yref="y3", x0=0, x1=1, y0=lev, y1=lev,
                       line=dict(color=col, dash=dash, width=1.8)))

# ---- (d)
fig.add_trace(scatter(d_points, "x4", "y4"))
for y1, (col, dash) in zip(d_y1, line_styles):
    fig.add_trace(go.Scatter(x=[d_x0, d_x1], y=[d_y0, y1], mode="lines", line=dict(color=col, dash=dash, width=1.8),
                             xaxis="x4", yaxis="y4", showlegend=False))

# ---- (e)
fig.add_trace(scatter(e_points, "x5", "y5"))
order = [0, 2, 1, 3]  # legend order: F+11 Mira, S+22 Mira, F+11, S+22
for i in order:
    col, dash = line_styles[i]
    fig.add_trace(go.Scatter(x=[e_x0, e_x1[i]], y=[e_y0, e_y1], mode="lines",
                             line=dict(color=col, dash=dash, width=1.8), xaxis="x5", yaxis="y5",
                             name=line_names[i], legend="legend3", showlegend=True))

# ---- (f)
fig.add_trace(scatter(f_points, "x6", "y6"))
fig.add_trace(go.Scatter(x=f_limit_x, y=f_limit_y, mode="lines", line=dict(color="black", width=4.5),
                         xaxis="x6", yaxis="y6", showlegend=False))
shapes.append(dict(type="line", xref="x6 domain", yref="y6", x0=0, x1=1, y0=f_gc_level, y1=f_gc_level,
                   line=dict(color="black", dash="10px,5px", width=1.6)))

# ---- (g)
hist_x = [hist_start] + [hist_start + k * hist_width for k in range(len(hist_heights))] + [hist_start + len(hist_heights) * hist_width]
hist_y = [0] + hist_heights + [hist_heights[-1]]
fig.add_trace(go.Scatter(x=hist_x, y=hist_y, mode="lines", line=dict(color="#7f7f7f", width=2.5, shape="hv"),
                         fill="tozeroy", fillcolor="#d9d9d9", xaxis="x7", yaxis="y7", showlegend=False,
                         hoverinfo="skip"))
for name, col, ys, yd in zip(g_periods, g_colors, g_solid, g_dashed):
    fig.add_trace(go.Scatter(x=g_s, y=yd, mode="lines", line=dict(color=col, width=1.8, dash="6px,3.5px", shape="spline", smoothing=0.8),
                             xaxis="x7", yaxis="y7", showlegend=False))
    fig.add_trace(go.Scatter(x=g_s, y=ys, mode="lines", line=dict(color=col, width=1.8, shape="spline", smoothing=0.8),
                             xaxis="x7", yaxis="y7", name=name, legend="legend2", showlegend=True))
fig.add_trace(go.Scatter(x=[None], y=[None], mode="lines", line=dict(color="#7f7f7f", width=1.8),
                         xaxis="x7", yaxis="y7", name="(<i>ℓ</i>, <i>b</i>) = (−0.2, 0) deg", legend="legend"))
fig.add_trace(go.Scatter(x=[None], y=[None], mode="lines", line=dict(color="#7f7f7f", width=1.8, dash="6px,3.5px"),
                         xaxis="x7", yaxis="y7", name="(<i>ℓ</i>, <i>b</i>) = (0.0, 0.3) deg", legend="legend"))
shapes.append(dict(type="line", xref="x7", yref="y7 domain", x0=gc_dist, x1=gc_dist, y0=0, y1=1,
                   line=dict(color="black", dash="7px,4px", width=2)))
shapes.append(dict(type="line", xref="x7", yref="y7 domain", x0=map_limit, x1=map_limit, y0=0, y1=1,
                   line=dict(color="#999999", dash="2px,2px", width=1.6)))

# (c) fraction bar for y label
shapes.append(dict(type="line", xref="paper", yref="paper", x0=PX(31), x1=PX(31), y0=PY(498), y1=PY(716),
                   line=dict(color="black", width=1.3)))

# ---------------- AXES ----------------
lay = {}
lay["xaxis"] = base_axis(dom_x(96, 661), "y", [math.log10(95), 3], True, type="log", tickmode="array",
                         tickvals=LOG_TV, ticktext=[str(v) for v in LOG_TV], minor=minor(vals=LOG_MINOR))
lay["yaxis"] = base_axis(dom_y(9, 417), "x", [0, 8], dtick=1)
lay["xaxis2"] = base_axis(dom_x(735, 1302), "y2", [math.log10(95.5), 3], True, type="log", tickmode="array",
                          tickvals=LOG_TV, ticktext=[str(v) for v in LOG_TV], minor=minor(vals=LOG_MINOR))
lay["yaxis2"] = base_axis(dom_y(9, 417), "x2", [-0.75, -10.8],
                          tickvals=[-10, -8, -6, -4, -2], minor=minor(dtick=0.5))
lay["xaxis3"] = base_axis(dom_x(97, 341), "y3", [math.log10(96), 3], True, type="log", tickmode="array",
                          tickvals=LOG_TV, ticktext=[str(v) for v in LOG_TV], minor=minor(vals=LOG_MINOR))
lay["yaxis3"] = base_axis(dom_y(484, 729), "x3", [-1, 2], dtick=0.5, tickformat=".1f", minor=minor(dtick=0.1))
lay["xaxis4"] = base_axis(dom_x(414, 661), "y4", [-0.75, 6.0], True, dtick=2, minor=minor(dtick=0.5))
lay["yaxis4"] = base_axis(dom_y(484, 729), "x4", [-0.55, 7.0], dtick=2, minor=minor(dtick=0.5))
lay["xaxis5"] = base_axis(dom_x(94, 341), "y5", [-0.17, 7.0], True, dtick=2, minor=minor(dtick=0.5),
                          ticklabelstandoff=-6)
lay["yaxis5"] = base_axis(dom_y(795, 1043), "x5", [23, 11], dtick=2, minor=minor(dtick=0.5))
lay["xaxis6"] = base_axis(dom_x(414, 661), "y6", [-0.185, 7.0], True, dtick=2, minor=minor(dtick=0.5),
                          ticklabelstandoff=-6)
lay["yaxis6"] = base_axis(dom_y(795, 1043), "x6", [18, 11], dtick=2, minor=minor(dtick=0.5))
lay["xaxis7"] = base_axis(dom_x(735, 1302), "y7", [2, 13], True, dtick=2, minor=minor(dtick=0.5),
                          ticklabelstandoff=-5)
lay["yaxis7"] = base_axis(dom_y(483, 1043), "x7", [0, 1], dtick=0.2, tickformat=".1f", minor=minor(dtick=0.05))

# ---------------- ANNOTATIONS ----------------
ann = []
def letter(txt, ax, x=0.015, y=0.99, size=26):
    ann.append(dict(xref=f"{ax} domain", yref=f"{ax.replace('x', 'y')} domain", x=x, y=y, text=txt, showarrow=False,
                    xanchor="left", yanchor="top", font=dict(family=SANS, size=size, color="black")))

letter("(a)", "x")
letter("(b)", "x2")
letter("(c)", "x3", x=0.01, y=1.0)
letter("(d)", "x4", x=0.0, y=1.0)
letter("(e)", "x5", x=0.01, y=1.0)
letter("(f)", "x6", x=0.01, y=1.0)
letter("(g)", "x7", x=0.02, y=0.985)

def txt(x, y, t, xa, ya, size=20, xanchor="left", yanchor="middle", angle=0, fam=SERIF):
    ann.append(dict(xref=xa, yref=ya, x=x, y=y, text=t, showarrow=False, xanchor=xanchor, yanchor=yanchor,
                    textangle=angle, font=dict(family=fam, size=size, color="black")))

def page_txt(px, py, t, size=23, angle=0):
    txt(PX(px), PY(py), t, "paper", "paper", size=size, xanchor="center", yanchor="middle", angle=angle)

# axis titles (placed as in the reference)
KSM_LMC = "<i>K</i><sub><i>s</i>, 0</sub> − <i>M</i><sub><i>K<sub>s</sub></i>, LMC</sub>(<i>P</i>)"
KSM_NSD = "<i>K</i><sub><i>s</i>, 0</sub> − <i>M</i><sub><i>K<sub>s</sub></i>, NSD</sub>(<i>P</i>)"
XE = "(<i>K</i><sub><i>s</i></sub> − [4.5])<sub>0</sub> − (<i>K</i><sub><i>s</i></sub> − [4.5])<sub>LMC</sub>"
page_txt(378, 452, PER_T)
page_txt(62, 212, KS45, angle=-90)
page_txt(1018, 452, PER_T)
page_txt(686, 212, "<i>K</i><sub><i>s</i>, 0</sub> − 5log<sub>10</sub>(GC dist.)", angle=-90)
page_txt(219, 765, PER_T)
page_txt(537, 767, "(<i>K</i><sub><i>s</i></sub> − [3.6])<sub>0</sub>")
page_txt(386, 605, KS45, angle=-90)
page_txt(218, 1076, XE, size=20)
page_txt(57, 919, KSM_LMC, angle=-90)
page_txt(538, 1076, XE, size=20)
page_txt(378, 919, KSM_NSD, angle=-90)
page_txt(1018, 1076, "Distance, <i>s</i> [kpc]")
page_txt(692, 737, "Selection fraction, <i>S</i>(<i>ℓ</i>, <i>b</i>, <i>s</i>, <i>P</i>)", angle=-90)

# (a)
ann.append(dict(xref="x", yref="y", axref="x", ayref="y", x=math.log10(a_arrow_P), y=a_arrow_y1,
                ax=math.log10(a_arrow_P), ay=a_arrow_y0, text="", showarrow=True, arrowhead=2,
                arrowsize=1.5, arrowwidth=1.4, arrowcolor="black"))
txt(math.log10(549), 2.0, "<i>E</i><sub><i>R</i></sub>(<i>K</i><sub><i>s</i></sub> − [4.5])", "x", "y", size=23)
txt(math.log10(547), 0.36, "LMC", "x", "y", size=18, xanchor="center")
# (b)
ann.append(dict(xref="x2", yref="y2", axref="x2", ayref="y2", x=math.log10(b_arrow_P), y=b_arrow_y1,
                ax=math.log10(b_arrow_P), ay=b_arrow_y0, text="", showarrow=True, arrowhead=2,
                arrowsize=1.5, arrowwidth=1.4, arrowcolor="black"))
txt(math.log10(447), -9.62, "<i>M</i><sub><i>Ks</i>, LMC</sub>", "x2", "y2", size=21)
txt(math.log10(332), -7.55,
    "<i>A</i><sub><i>Ks</i>, <i>R</i></sub> = 1.45<i>E</i><sub><i>R</i></sub>(<i>K</i><sub><i>s</i></sub> − [4.5])",
    "x2", "y2", size=23)
txt(math.log10(711), -4.45, "<i>M</i><sub><i>Ks</i>, NSD</sub>", "x2", "y2", size=21)
# (c)
txt(0.955, 0.94, "Median = 0.405", "x3 domain", "y3 domain", size=21.5, xanchor="right", yanchor="middle")
txt(0.955, 0.845, "Interstellar = 0.308", "x3 domain", "y3 domain", size=21.5, xanchor="right", yanchor="middle")
txt(PX(18), PY(606), "[4.5]<sub>0</sub> − <i>M</i><sub>[4.5], LMC</sub> − 5log<sub>10</sub>(GC)", "paper", "paper",
    size=14, xanchor="center", yanchor="middle", angle=-90)
txt(PX(45), PY(606), "<i>K</i><sub><i>s</i>, 0</sub> − <i>M</i><sub><i>Ks</i>, LMC</sub> − 5log<sub>10</sub>(GC)", "paper", "paper",
    size=14, xanchor="center", yanchor="middle", angle=-90)
# (d)
txt(0.955, 0.17, "Slope = 0.85", "x4 domain", "y4 domain", size=21.5, xanchor="right")
txt(0.955, 0.07, "Interstellar = 0.82", "x4 domain", "y4 domain", size=21.5, xanchor="right")
# (f)
txt(3.94, 14.93, "GC", "x6", "y6", size=20, xanchor="center")
txt(4.72, 14.42, "[4.5] brightness limit = 5.5 mag", "x6", "y6", size=15, xanchor="center", angle=46)
# (g)
txt(8.6, 0.155, "GC", "x7", "y7", size=23, xanchor="center", angle=-90)
txt(10.55, 0.31, "Schultheis+14 map limit", "x7", "y7", size=20, xanchor="center", angle=-90)
txt(6.67, 0.018, "Data dist.", "x7", "y7", size=18, xanchor="center")

legend_common = dict(xanchor="left", yanchor="top", bgcolor="white", bordercolor="#d3d3d3", borderwidth=1,
                     font=dict(family=SERIF, size=22, color="black"), tracegroupgap=0, itemwidth=30)
fig.update_layout(
    width=W, height=H, margin=dict(l=0, r=0, t=0, b=0, autoexpand=False),
    paper_bgcolor="white", plot_bgcolor="white",
    shapes=shapes, annotations=ann, showlegend=True,
    legend=dict(x=PX(747), y=PY(549), **legend_common),
    legend2=dict(x=PX(747), y=PY(687), **{**legend_common, "font": dict(family=SERIF, size=21, color="black")}),
    legend3=dict(x=PX(205), y=PY(804), **{**legend_common, "font": dict(family=SERIF, size=17, color="black")}),
    legend4=dict(x=PX(744), y=PY(377), **{**legend_common, "font": dict(family=SERIF, size=19, color="black")}),
    **lay,
)

fig.write_html("out.html", config={"displayModeBar": False})
